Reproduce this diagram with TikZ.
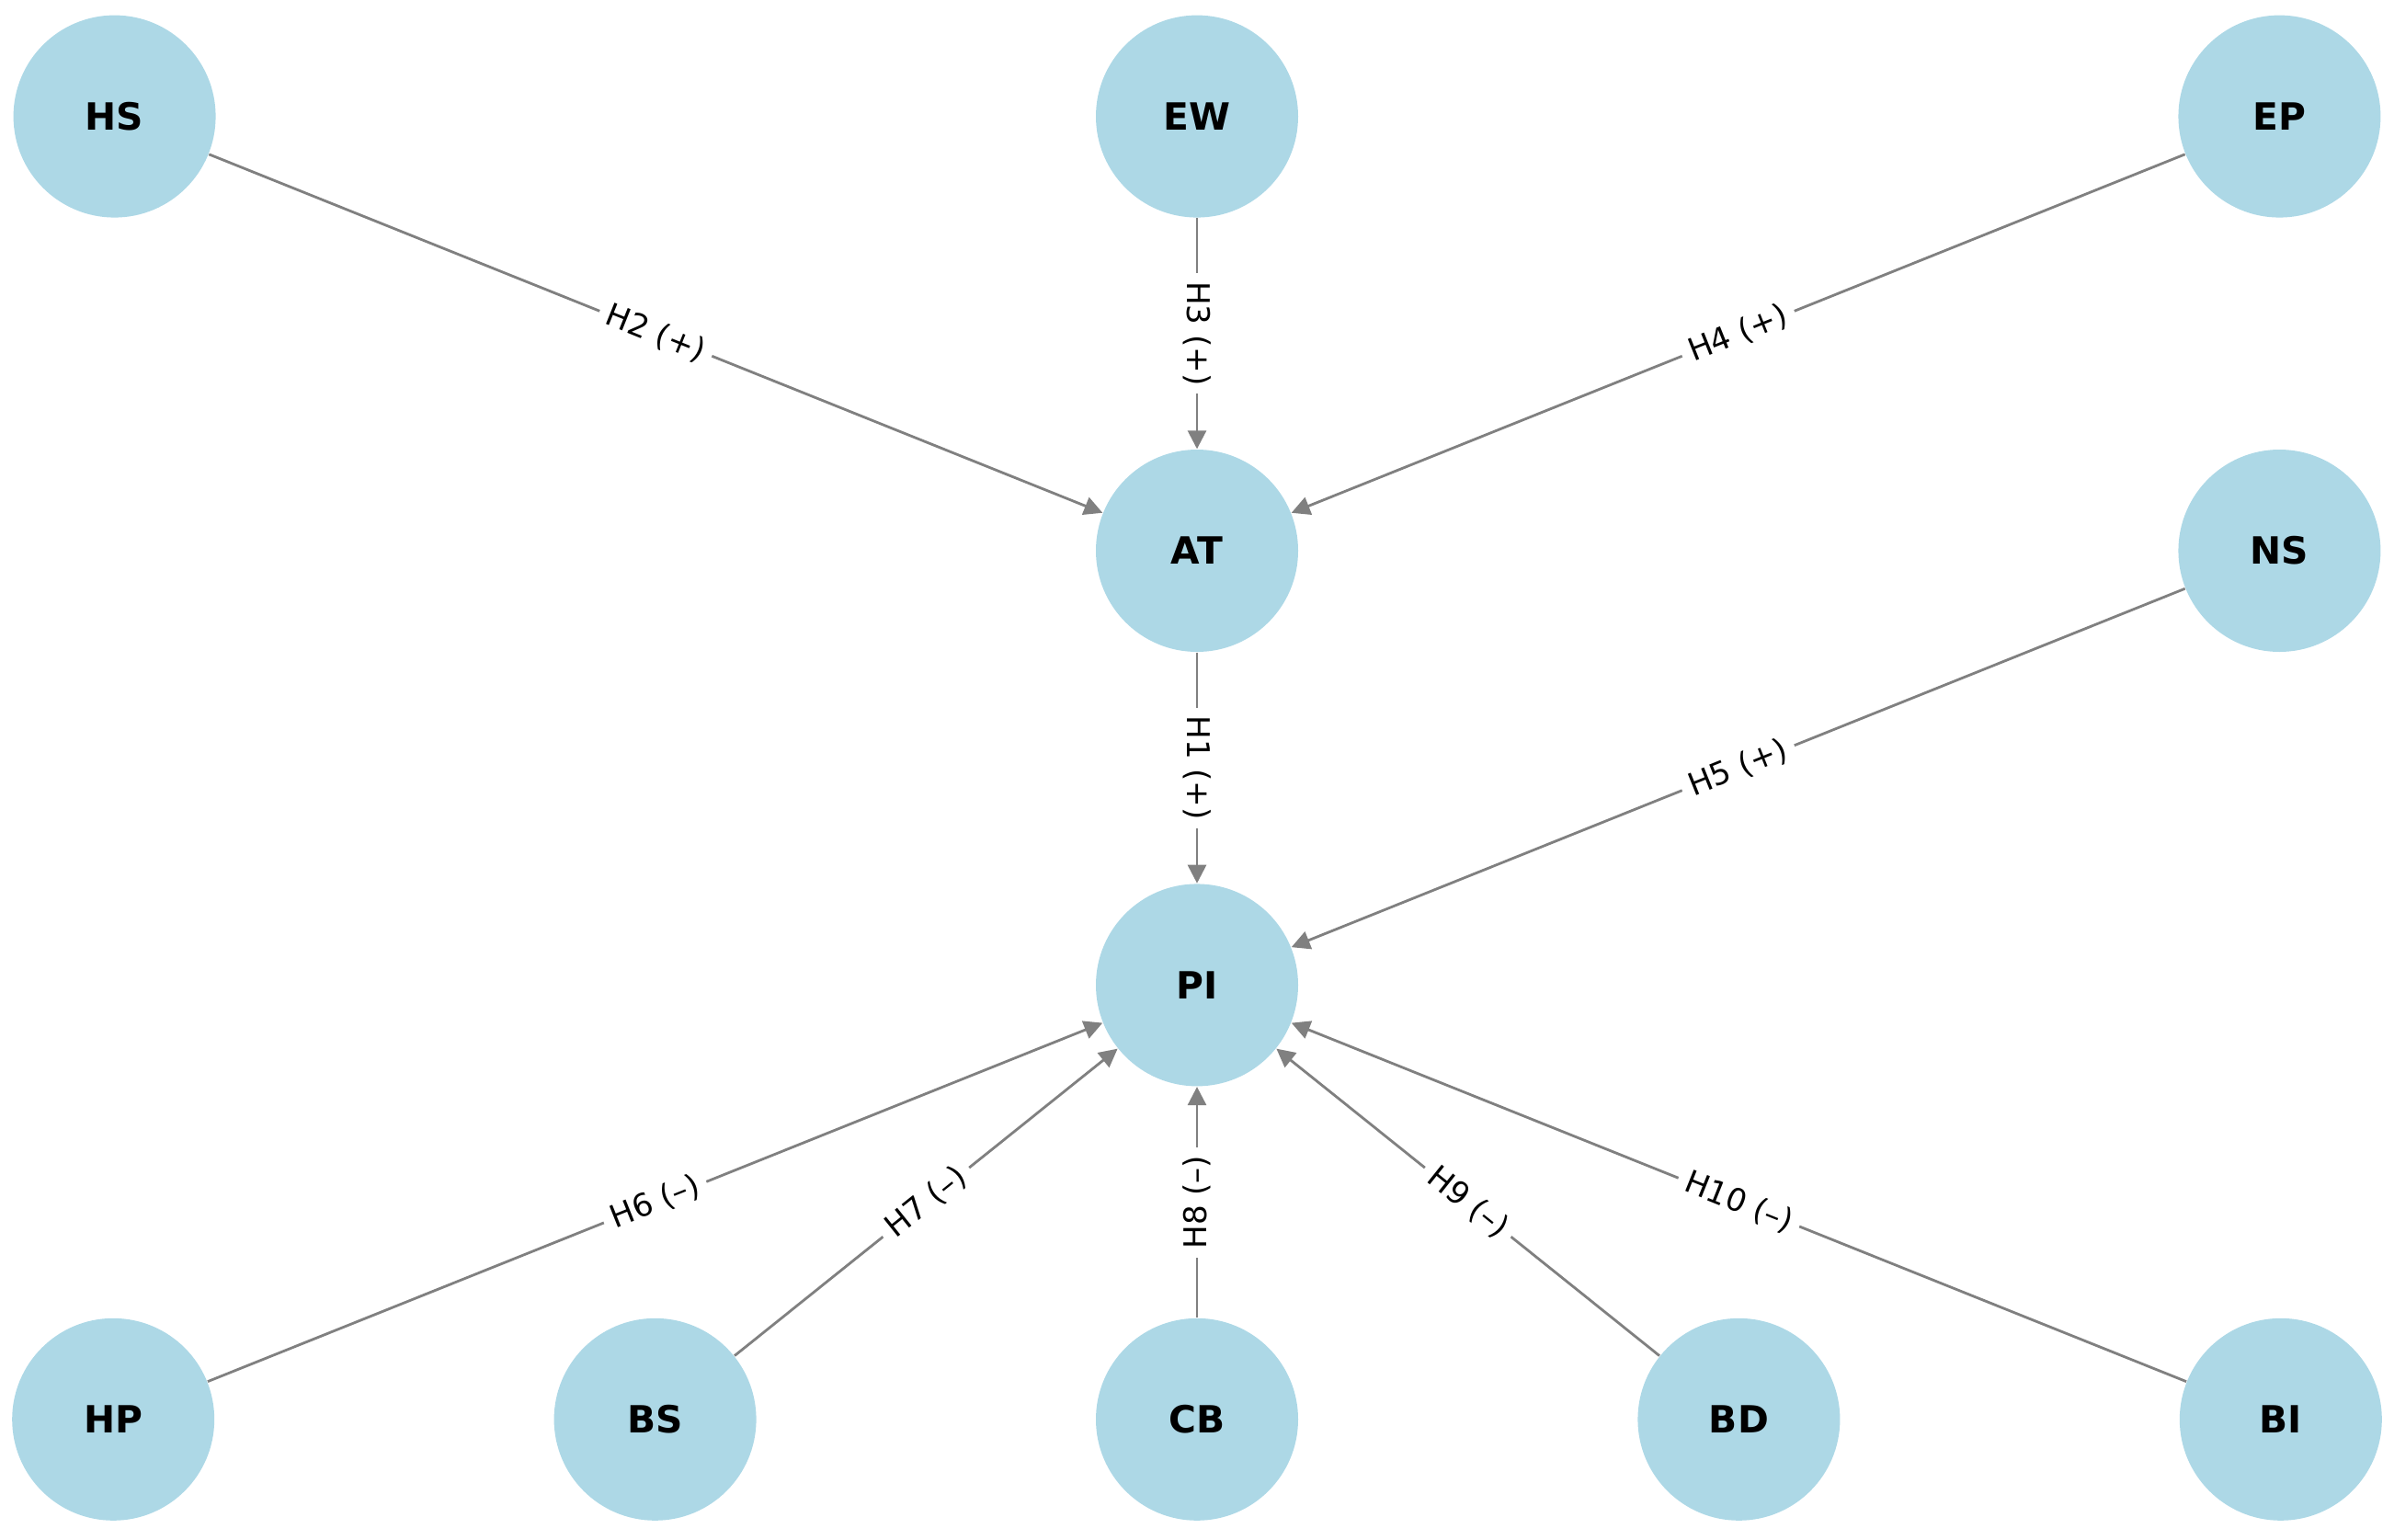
\documentclass[tikz,border=0pt]{standalone}
\usepackage{fontspec}
\setmainfont{DejaVu Sans}
\usepackage{tikz}
\usetikzlibrary{arrows.meta,positioning}
\definecolor{nodeblue}{RGB}{173,216,230}
\definecolor{edgegray}{RGB}{128,128,128}

\begin{document}
\begin{tikzpicture}[
  node distance=2.51cm and 3.68cm,
  var/.style={circle, fill=nodeblue, minimum size=2.2cm, inner sep=0pt,
    font=\fontsize{11.6}{13}\selectfont\bfseries},
  arr/.style={-{Triangle[length=0.2cm, width=0.2cm]}, draw=edgegray, line width=0.8pt},
  hyp/.style={fill=white, inner sep=0.09cm, font=\fontsize{9.7}{11}\selectfont}
]
\useasboundingbox (0,0) rectangle (26.04,-16.74);
\node[var] (AT) at (13.02,-5.99) {AT};
\node[var, above=of AT] (EW) {EW};
\node[var, left=9.56cm of EW] (HS) {HS};
\node[var, right=9.56cm of EW] (EP) {EP};
\node[var, right=9.56cm of AT] (NS) {NS};
\node[var, below=of AT] (PI) {PI};
\node[var, below=of PI] (CB) {CB};
\node[var, left=of CB] (BS) {BS};
\node[var, left=of BS] (HP) {HP};
\node[var, right=of CB] (BD) {BD};
\node[var, right=of BD] (BI) {BI};

\draw[arr] (AT) -- node[hyp, rotate=-90] {H1 (+)} (PI);
\draw[arr] (HS) -- node[hyp, sloped] {H2 (+)} (AT);
\draw[arr] (EW) -- node[hyp, rotate=-90] {H3 (+)} (AT);
\draw[arr] (EP) -- node[hyp, sloped] {H4 (+)} (AT);
\draw[arr] (NS) -- node[hyp, sloped] {H5 (+)} (PI);
\draw[arr] (HP) -- node[hyp, sloped] {H6 (–)} (PI);
\draw[arr] (BS) -- node[hyp, sloped] {H7 (–)} (PI);
\draw[arr] (CB) -- node[hyp, rotate=90] {H8 (–)} (PI);
\draw[arr] (BD) -- node[hyp, sloped] {H9 (–)} (PI);
\draw[arr] (BI) -- node[hyp, sloped] {H10 (–)} (PI);
\end{tikzpicture}
\end{document}
